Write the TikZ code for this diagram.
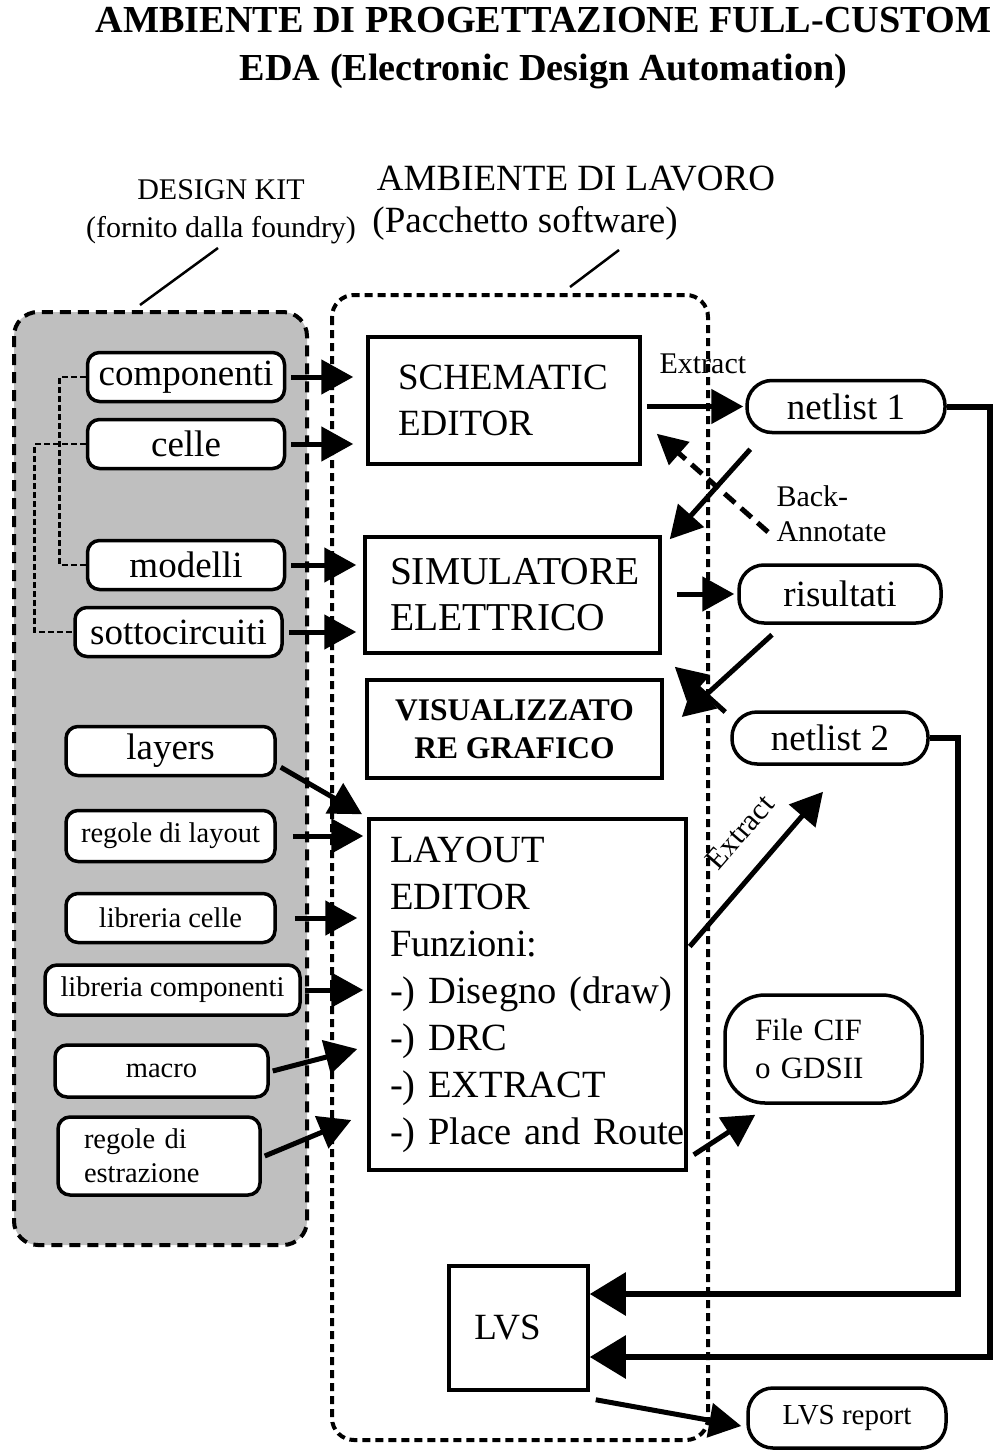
\documentclass[tikz,border=0pt]{standalone}
\usepackage{fontspec}
\setmainfont{Liberation Serif}
\usetikzlibrary{arrows.meta,calc}

\begin{document}
\begin{tikzpicture}[x=1pt,y=-1pt,
  titletxt/.style={font=\fontsize{38.2}{46}\selectfont\bfseries},
  headtxt/.style={font=\fontsize{37}{44}\selectfont},
  subtxt/.style={font=\fontsize{30}{36}\selectfont},
  bigtxt/.style={font=\fontsize{37}{46}\selectfont},
  smalltxt/.style={font=\fontsize{28.5}{34}\selectfont},
  kitbox/.style={draw, line width=3.5pt, rounded corners=12pt, fill=white,
    inner sep=0pt, minimum height=49pt},
  toolbox/.style={draw, line width=3.5pt, fill=white, inner sep=0pt, align=left},
  pill/.style={draw, line width=3.5pt, rounded corners=25pt, fill=white,
    inner sep=0pt, minimum height=52pt},
  arr/.style={line width=5pt, -{Triangle[length=32pt,width=34pt]}},
  arrbig/.style={line width=6pt, -{Triangle[length=36pt,width=42pt]}},
  backarr/.style={line width=5pt, dash pattern=on 14pt off 8pt,
    -{Triangle[length=30pt,width=30pt]}},
  linkdash/.style={line width=2.6pt, dash pattern=on 6pt off 3pt},
  pointer/.style={line width=2.5pt},
  kitframe/.style={line width=4pt, dash pattern=on 11pt off 7pt, rounded corners=24pt},
  envframe/.style={line width=4pt, dash pattern=on 8pt off 5pt, rounded corners=22pt},
]
\useasboundingbox (0,0) rectangle (993,1450);

% ---- titles ----
\node[titletxt, anchor=base] (title1) at (543.5,33) {AMBIENTE DI PROGETTAZIONE FULL-CUSTOM};
\node[titletxt, anchor=base] (title2) at (543.5,81) {EDA (Electronic Design Automation)};

\node[subtxt, anchor=base] (dk1) at (221,200) {DESIGN KIT};
\node[subtxt, anchor=base] (dk2) at (221,237) {(fornito dalla foundry)};
\node[headtxt, anchor=base] (amb1) at (576,190) {AMBIENTE DI LAVORO};
\node[headtxt, anchor=base] (amb2) at (525,233) {(Pacchetto software)};

% ---- design kit frame (filled) ----
\fill[gray!50, rounded corners=24pt] (14,312) rectangle (307,1245);

% ---- design kit items ----
\node[kitbox, bigtxt, minimum width=197pt] (comp) at (186,377) {componenti};
\node[kitbox, bigtxt, minimum width=197pt] (celle) at (186,444) {celle};
\node[kitbox, bigtxt, minimum width=197pt] (mod) at (186,565) {modelli};
\node[kitbox, bigtxt, minimum width=207pt] (sotto) at (178.5,632) {sottocircuiti};
\node[kitbox, bigtxt, minimum width=209pt] (layers) at (170.5,751) {layers};
\node[kitbox, smalltxt, minimum width=209pt, minimum height=51pt] (regl) at (170.5,836) {regole di layout};
\node[kitbox, smalltxt, minimum width=209pt] (libc) at (170.5,918) {libreria celle};
\node[kitbox, smalltxt, minimum width=255pt, minimum height=50pt] (libcomp) at (172.5,990) {libreria componenti};
\node[kitbox, smalltxt, minimum width=213pt, minimum height=52pt] (macro) at (161.5,1071) {macro};
\node[kitbox, smalltxt, minimum width=202pt, minimum height=78pt, text width=150pt, align=left] (rege) at (159,1156) {regole di\\estrazione};

\draw[linkdash] (comp.west) -- ++(-26,0) |- (mod.west);
\draw[linkdash] (celle.west) -- ++(-51,0) |- (sotto.west);

% ---- tools ----
\node[toolbox, bigtxt, minimum width=272pt, minimum height=127pt, text width=212pt] (schem) at (504,400.5) {SCHEMATIC\\EDITOR};
\node[toolbox, font=\fontsize{39.5}{46}\selectfont, minimum width=295pt, minimum height=116pt, text width=245pt] (sim) at (512.5,595) {\mbox{SIMULATORE}\\ELETTRICO};
\node[toolbox, font=\fontsize{31.5}{38}\selectfont\bfseries, align=center, minimum width=295pt, minimum height=98pt] (vis) at (514.5,729) {VISUALIZZATO\\RE GRAFICO};
\node[toolbox, font=\fontsize{38.5}{47}\selectfont, minimum width=317pt, minimum height=351pt, text width=275pt] (layout) at (527.5,994.5)
  {\mbox{LAYOUT}\\\mbox{EDITOR}\\\mbox{Funzioni:}\\\mbox{-) Disegno (draw)}\\\mbox{-) DRC}\\\mbox{-) EXTRACT}\\\mbox{-) Place and Route}};
\node[toolbox, bigtxt, align=center, minimum width=139pt, minimum height=124pt] (lvs) at (518.5,1328) {LVS\hspace*{22pt}};

% ---- outputs ----
\node[pill, bigtxt, minimum width=198pt] (n1) at (846,406.5) {netlist 1};
\node[pill, bigtxt, minimum width=202pt, minimum height=58pt] (ris) at (840,594) {risultati};
\node[pill, bigtxt, minimum width=196pt] (n2) at (830,738) {netlist 2};
\node[pill, rounded corners=40pt, font=\fontsize{31}{38}\selectfont, align=left, text width=137pt,
  minimum width=197pt, minimum height=108pt] (cif) at (823.5,1049) {File CIF\\o GDSII};
\node[pill, font=\fontsize{29}{34}\selectfont, minimum width=198pt, minimum height=60pt] (rep) at (847,1418) {LVS report};

% ---- inputs to the tools ----
\draw[arr, shorten <=5pt, shorten >=13pt] (comp.east) -- (comp.east -| schem.west);
\draw[arr, shorten <=5pt, shorten >=13pt] (celle.east) -- (celle.east -| schem.west);
\draw[arr, shorten <=5pt, shorten >=7pt] (mod.east) -- (mod.east -| sim.west);
\draw[arr, shorten <=5pt, shorten >=7pt] (sotto.east) -- (sotto.east -| sim.west);
\draw[arr, shorten >=6pt] ([shift={(4,-10)}]layers.south east) -- (layout.north west);
\draw[arr, shorten <=16pt, shorten >=4pt] (regl.east) -- (regl.east -| layout.west);
\draw[arr, shorten <=18pt, shorten >=10pt] (libc.east) -- (libc.east -| layout.west);
\draw[arr, shorten <=3pt, shorten >=4pt] (libcomp.east) -- (libcomp.east -| layout.west);
\draw[arr] ([xshift=3pt]macro.east) -- ($(layout.west |- macro.east)+(-10,-22)$);
\draw[arr] ([xshift=3pt]rege.east) -- ($(layout.west |- rege.east)+(-16,-36)$);

% ---- flow between tools and files ----
\draw[arr, shorten <=5pt, shorten >=2pt] (schem.east |- n1.west) -- (n1.west);
\node[subtxt, anchor=base west] (ex1) at (656,373) {Extract};
\draw[arr] ([shift={(5,15)}]n1.south west) -- ([shift={(8,4)}]sim.north east);
\node[subtxt, anchor=west, align=left, font=\fontsize{30}{35}\selectfont] (ba) at (773,514) {Back-\\Annotate};
\draw[backarr] ([shift={(-5,18)}]ba.west) -- ([shift={(15,-32)}]schem.south east);
\draw[arr, shorten <=15pt, shorten >=3pt] (sim.east |- ris.west) -- (ris.west);
\draw[arr] ([shift={(-68,10)}]ris.south) -- ([shift={(18,-12)}]vis.east);
\draw[arr] ([shift={(-5,-26)}]n2.west) -- ([shift={(13,12)}]sim.south east);
\draw[arr] ([shift={(2,-48)}]layout.east) -- ([shift={(-7,26)}]n2.south);
\node[subtxt, rotate=49, inner sep=0pt] (ex2) at (740,832) {Extract};
\draw[arr] ([shift={(6,-17)}]layout.south east) -- ([shift={(32,10)}]cif.south west);

% ---- netlists to LVS ----
\coordinate (rail1) at (990,1357);
\coordinate (rail2) at (958,1294);
\draw[arrbig] (n1.east) -| (rail1) -- (rail1 -| lvs.east);
\draw[arrbig] (n2.east) -| (rail2) -- (rail2 -| lvs.east);
\draw[arr] ([shift={(6,8)}]lvs.south east) -- ([shift={(-5,8)}]rep.west);

% ---- frames and their captions ----
\draw[kitframe] (14,312) rectangle (307,1245);
\draw[envframe] (332,295) rectangle (708,1440);
\coordinate (dkptr) at (140,305);
\coordinate (ambptr) at (570,287);
\draw[pointer] (218,248) -- (dkptr);
\draw[pointer] (619,250) -- (ambptr);
\end{tikzpicture}
\end{document}
